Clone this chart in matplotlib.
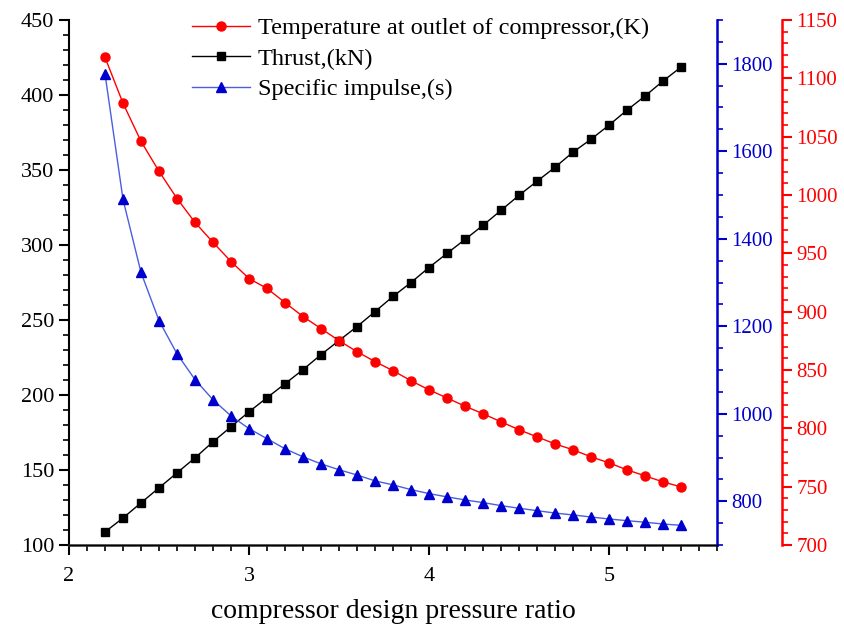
import matplotlib
matplotlib.use("Agg")
import matplotlib.pyplot as plt
from matplotlib.ticker import MultipleLocator

plt.rcParams['font.family'] = ['Liberation Serif', 'DejaVu Serif']
plt.rcParams['mathtext.fontset'] = 'stix'

# compressor design pressure ratio
ratio = [2.2, 2.3, 2.4, 2.5, 2.6, 2.7, 2.8, 2.9, 3.0, 3.1, 3.2,
         3.3, 3.4, 3.5, 3.6, 3.7, 3.8, 3.9, 4.0, 4.1, 4.2, 4.3,
         4.4, 4.5, 4.6, 4.7, 4.8, 4.9, 5.0, 5.1, 5.2, 5.3, 5.4]

# thrust (kN), left axis
thrust = [108.7, 118.0, 128.1, 138.1, 148.1, 158.1, 168.8, 178.8, 188.8, 198.2, 207.5,
          216.9, 226.9, 236.3, 245.6, 255.6, 265.7, 275.0, 285.0, 294.4, 303.7, 313.1,
          323.1, 333.1, 342.5, 351.8, 361.9, 370.5, 379.9, 389.9, 399.3, 409.3, 418.6]

# specific impulse (s), blue axis
impulse = [1777, 1490, 1323, 1213, 1137, 1078, 1032, 995, 966, 943, 920,
           901.5, 885.5, 872, 860, 846.6, 837.4, 826.6, 817.5, 810, 803, 797,
           790, 784, 778.5, 773, 768.7, 764, 759.5, 755.6, 752, 748, 745]

# compressor outlet temperature (K), red axis
temp = [1118, 1078.7, 1046, 1020.3, 997, 976.5, 959.4, 943, 928.4, 919.9, 907.8,
        895.8, 885.5, 875.2, 865.7, 857.2, 849.4, 840.8, 833, 826, 819, 812.5,
        805.6, 798.8, 792.7, 786.7, 781.6, 775.6, 770.4, 764.4, 759.3, 754.1, 749.8]

blue = '#0000CC'
red = '#FF0000'

fig = plt.figure(figsize=(8.44, 6.28), dpi=100)
ax = fig.add_axes([69/844, 1-545/628, (717-69)/844, (545-20)/628])
ax2 = ax.twinx()
ax3 = ax.twinx()
ax3.spines['right'].set_position(('axes', 65/648 + 1))

l1, = ax.plot(ratio, thrust, color='black', lw=1, marker='s', ms=5.5,
              mfc='black', mec='black', label='Thrust,(kN)')
l2, = ax2.plot(ratio, impulse, color='#4a5ee0', lw=1, marker='^', ms=7,
               mfc=blue, mec=blue, label='Specific impulse,(s)')
l3, = ax3.plot(ratio, temp, color=red, lw=1, marker='o', ms=6.5,
               mfc=red, mec=red, label='Temperature at outlet of compressor,(K)')

ax.set_xlim(2, 5.6)
ax.set_ylim(100, 450)
ax2.set_ylim(700, 1900)
ax3.set_ylim(700, 1150)

ax.xaxis.set_major_locator(MultipleLocator(1))
ax.xaxis.set_minor_locator(MultipleLocator(0.1))
ax.yaxis.set_major_locator(MultipleLocator(50))
ax.yaxis.set_minor_locator(MultipleLocator(10))
ax2.set_yticks([800, 1000, 1200, 1400, 1600, 1800])
ax2.yaxis.set_minor_locator(MultipleLocator(50))
ax3.yaxis.set_major_locator(MultipleLocator(50))
ax3.yaxis.set_minor_locator(MultipleLocator(10))

for a in (ax, ax2, ax3):
    a.spines['top'].set_visible(False)
ax.spines['right'].set_visible(False)
ax2.spines['left'].set_visible(False)
ax3.spines['left'].set_visible(False)
ax.spines['left'].set_linewidth(1.5)
ax.spines['bottom'].set_linewidth(1.8)
ax.spines['bottom'].set_color('#333333')
ax2.spines['right'].set_color(blue)
ax2.spines['right'].set_linewidth(1.8)
ax3.spines['right'].set_color(red)
ax3.spines['right'].set_linewidth(1.8)

ax.tick_params(axis='both', which='major', direction='out', length=7, width=1.5, labelsize=16)
ax.tick_params(axis='both', which='minor', direction='out', length=4, width=1.2)
ax.tick_params(axis='x', pad=9)
ax2.tick_params(axis='y', which='major', direction='out', length=7, width=1.5,
                colors=blue, labelsize=15)
ax2.tick_params(axis='y', which='minor', direction='out', length=4, width=1.2, colors=blue)
ax3.tick_params(axis='y', which='major', direction='out', length=7, width=1.5,
                colors=red, labelsize=15)
ax3.tick_params(axis='y', which='minor', direction='out', length=4, width=1.2, colors=red)

ax.set_xlabel('compressor design pressure ratio', fontsize=20, labelpad=9)

ax3.legend(handles=[l3, l1, l2], loc='upper left', bbox_to_anchor=(0.19, 1.005),
           frameon=False, fontsize=17.5, handlelength=2.4, handletextpad=0.3,
           labelspacing=0.35, borderpad=0, borderaxespad=0)

fig.savefig('out.png', dpi=100)
